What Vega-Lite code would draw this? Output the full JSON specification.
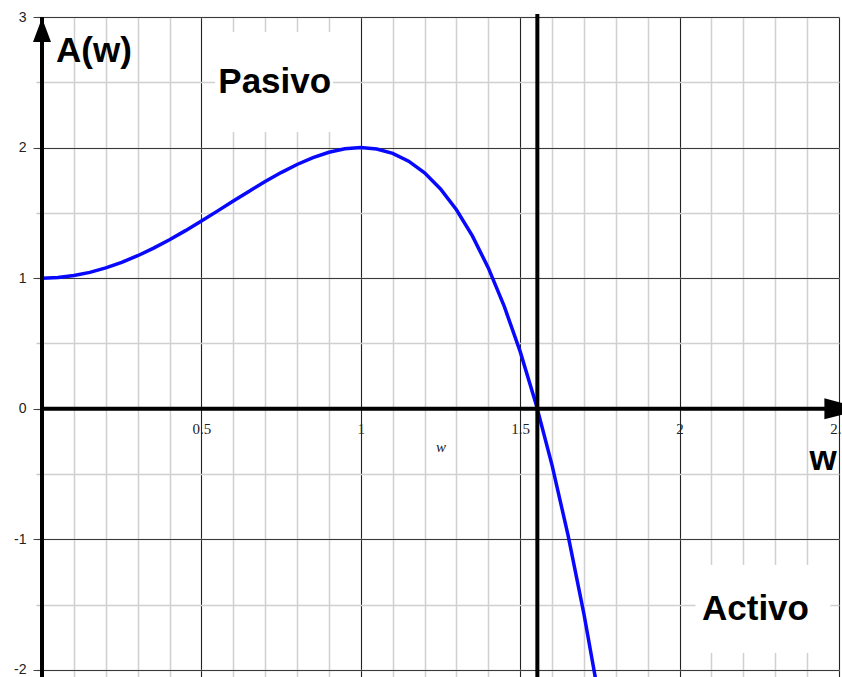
{
  "$schema": "https://vega.github.io/schema/vega-lite/v6.json",
  "width": 797,
  "height": 660,
  "autosize": {"type": "none"},
  "padding": {"left": 42, "top": 17, "right": 3, "bottom": 0},
  "background": "white",
  "config": {"view": {"stroke": null}},
  "datasets": {
    "curve": [
      {"w": 0.00, "A": 1.0000},
      {"w": 0.05, "A": 1.0050},
      {"w": 0.10, "A": 1.0199},
      {"w": 0.15, "A": 1.0445},
      {"w": 0.20, "A": 1.0784},
      {"w": 0.25, "A": 1.1211},
      {"w": 0.30, "A": 1.1719},
      {"w": 0.35, "A": 1.2300},
      {"w": 0.40, "A": 1.2944},
      {"w": 0.45, "A": 1.3640},
      {"w": 0.50, "A": 1.4375},
      {"w": 0.55, "A": 1.5135},
      {"w": 0.60, "A": 1.5904},
      {"w": 0.65, "A": 1.6665},
      {"w": 0.70, "A": 1.7399},
      {"w": 0.75, "A": 1.8086},
      {"w": 0.80, "A": 1.8704},
      {"w": 0.85, "A": 1.9230},
      {"w": 0.90, "A": 1.9639},
      {"w": 0.95, "A": 1.9905},
      {"w": 1.00, "A": 2.0000},
      {"w": 1.05, "A": 1.9895},
      {"w": 1.10, "A": 1.9559},
      {"w": 1.15, "A": 1.8960},
      {"w": 1.20, "A": 1.8064},
      {"w": 1.25, "A": 1.6836},
      {"w": 1.30, "A": 1.5239},
      {"w": 1.35, "A": 1.3235},
      {"w": 1.40, "A": 1.0784},
      {"w": 1.45, "A": 0.7845},
      {"w": 1.50, "A": 0.4375},
      {"w": 1.55, "A": 0.0330},
      {"w": 1.60, "A": -0.4336},
      {"w": 1.65, "A": -0.9670},
      {"w": 1.70, "A": -1.5721},
      {"w": 1.75, "A": -2.2539}
    ],
    "boxes": [
      {"w0": 0.543, "w1": 0.913, "a0": 2.119, "a1": 2.885},
      {"w0": 2.050, "w1": 2.473, "a0": -1.870, "a1": -1.196}
    ],
    "notes": [
      {"w": 0.163, "A": 2.655, "label": "A(w)"},
      {"w": 0.730, "A": 2.418, "label": "Pasivo"},
      {"w": 2.238, "A": -1.617, "label": "Activo"},
      {"w": 2.450, "A": -0.469, "label": "w"}
    ],
    "one": [{}]
  },
  "resolve": {"axis": {"x": "independent", "y": "independent"}},
  "layer": [
    {
      "description": "White label boxes; also carries the fine grid (0.1 in w, 0.5 in A)",
      "data": {"name": "boxes"},
      "mark": {"type": "rect", "fill": "white"},
      "encoding": {
        "x": {
          "field": "w0", "type": "quantitative",
          "scale": {"domain": [0, 2.5], "nice": false, "zero": false},
          "axis": {
            "orient": "bottom", "title": null, "labels": false, "ticks": false, "domain": false,
            "grid": true, "gridColor": "#d0d0d0", "gridWidth": 1.5,
            "values": [0, 0.1, 0.2, 0.3, 0.4, 0.5, 0.6, 0.7, 0.8, 0.9, 1, 1.1, 1.2, 1.3, 1.4, 1.5, 1.6, 1.7, 1.8, 1.9, 2, 2.1, 2.2, 2.3, 2.4, 2.5]
          }
        },
        "x2": {"field": "w1"},
        "y": {
          "field": "a0", "type": "quantitative",
          "scale": {"domain": [-2.054, 3], "nice": false, "zero": false},
          "axis": {
            "orient": "left", "title": null, "labels": false, "domain": false,
            "ticks": true, "tickColor": "#c8c8c8", "tickSize": 6, "tickWidth": 1.5,
            "grid": true, "gridColor": "#d0d0d0", "gridWidth": 1.5,
            "values": [-2, -1.5, -1, -0.5, 0, 0.5, 1, 1.5, 2, 2.5, 3]
          }
        },
        "y2": {"field": "a1"}
      }
    },
    {
      "description": "A(w) = 1 + 2w^2 - w^4; also carries the main grid and the A tick labels",
      "data": {"name": "curve"},
      "mark": {"type": "line", "color": "#0808ff", "strokeWidth": 3.5, "clip": true},
      "encoding": {
        "x": {
          "field": "w", "type": "quantitative",
          "scale": {"domain": [0, 2.5], "nice": false, "zero": false},
          "axis": {
            "orient": "bottom", "title": null, "labels": false, "ticks": false, "domain": false,
            "grid": true, "gridColor": "#222222", "gridWidth": 1,
            "values": [0.5, 1, 1.5, 2, 2.5]
          }
        },
        "y": {
          "field": "A", "type": "quantitative",
          "scale": {"domain": [-2.054, 3], "nice": false, "zero": false},
          "axis": {
            "orient": "left", "title": null, "domain": false,
            "grid": true, "gridColor": "#3a3a3a", "gridWidth": 1,
            "ticks": true, "tickColor": "#444444", "tickSize": 9, "tickWidth": 1,
            "labels": true, "labelExpr": "'' + datum.value",
            "labelFont": "Liberation Sans", "labelFontSize": 14, "labelColor": "#222222",
            "labelPadding": 7, "labelOverlap": false,
            "values": [-2, -1, 0, 1, 2, 3]
          }
        }
      }
    },
    {
      "description": "Boundary at the root w = 1.554; carries the w labels along A = 0",
      "data": {"name": "one"},
      "mark": {"type": "rule", "color": "black", "strokeWidth": 4},
      "encoding": {
        "x": {
          "datum": 1.5538, "type": "quantitative",
          "scale": {"domain": [0, 2.5], "nice": false, "zero": false},
          "axis": {
            "orient": "bottom", "offset": -268, "grid": false, "ticks": false, "domain": false,
            "labels": true, "labelExpr": "'' + datum.value",
            "labelFont": "Liberation Serif", "labelFontSize": 15, "labelColor": "#222222",
            "labelPadding": 12, "labelFlush": false, "labelOverlap": false, "labelBound": false,
            "values": [0.5, 1, 1.5, 2, 2.5],
            "title": "w", "titleFont": "Liberation Serif", "titleFontStyle": "italic",
            "titleFontWeight": "normal", "titleFontSize": 15, "titleColor": "#222222",
            "titlePadding": 3
          }
        },
        "y": {"datum": 3.023, "type": "quantitative", "scale": {"domain": [-2.054, 3], "nice": false, "zero": false}, "axis": null},
        "y2": {"datum": -2.054}
      }
    },
    {
      "description": "Vertical axis line at w = 0",
      "data": {"name": "one"},
      "mark": {"type": "rule", "color": "black", "strokeWidth": 4},
      "encoding": {
        "x": {"datum": 0, "type": "quantitative", "scale": {"domain": [0, 2.5], "nice": false, "zero": false}, "axis": null},
        "y": {"datum": -2.054, "type": "quantitative", "scale": {"domain": [-2.054, 3], "nice": false, "zero": false}, "axis": null},
        "y2": {"datum": 3}
      }
    },
    {
      "description": "Horizontal axis line at A = 0",
      "data": {"name": "one"},
      "mark": {"type": "rule", "color": "black", "strokeWidth": 4},
      "encoding": {
        "x": {"datum": 0, "type": "quantitative", "scale": {"domain": [0, 2.5], "nice": false, "zero": false}, "axis": null},
        "x2": {"datum": 2.5},
        "y": {"datum": 0, "type": "quantitative", "scale": {"domain": [-2.054, 3], "nice": false, "zero": false}, "axis": null}
      }
    },
    {
      "description": "Arrow head on the A axis",
      "data": {"name": "one"},
      "mark": {"type": "point", "shape": "M0,0.1 L-0.9,2.5 L0.9,2.5 Z", "size": 400, "filled": true, "color": "black", "opacity": 1, "strokeWidth": 0},
      "encoding": {
        "x": {"datum": 0, "type": "quantitative", "scale": {"domain": [0, 2.5], "nice": false, "zero": false}, "axis": null},
        "y": {"datum": 3, "type": "quantitative", "scale": {"domain": [-2.054, 3], "nice": false, "zero": false}, "axis": null}
      }
    },
    {
      "description": "Arrow head on the w axis",
      "data": {"name": "one"},
      "mark": {"type": "point", "shape": "M2.54,0 L-1.46,-1.05 L-1.46,1.05 Z", "size": 400, "filled": true, "color": "black", "opacity": 1, "strokeWidth": 0},
      "encoding": {
        "x": {"datum": 2.5, "type": "quantitative", "scale": {"domain": [0, 2.5], "nice": false, "zero": false}, "axis": null},
        "y": {"datum": 0, "type": "quantitative", "scale": {"domain": [-2.054, 3], "nice": false, "zero": false}, "axis": null}
      }
    },
    {
      "description": "Region and axis names",
      "data": {"name": "notes"},
      "mark": {"type": "text", "font": "Liberation Sans", "fontWeight": "bold", "fontSize": 35, "color": "black", "align": "center", "baseline": "alphabetic"},
      "encoding": {
        "x": {"field": "w", "type": "quantitative", "scale": {"domain": [0, 2.5], "nice": false, "zero": false}, "axis": null},
        "y": {"field": "A", "type": "quantitative", "scale": {"domain": [-2.054, 3], "nice": false, "zero": false}, "axis": null},
        "text": {"field": "label"}
      }
    }
  ]
}
